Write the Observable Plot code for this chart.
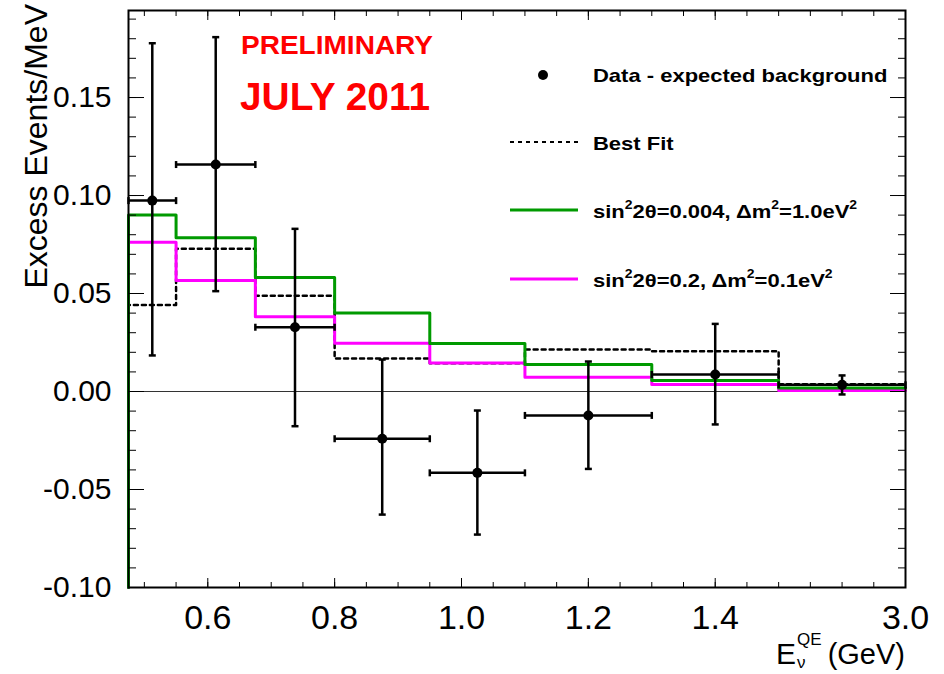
<!DOCTYPE html>
<html>
<head>
<meta charset="utf-8">
<script src="https://cdn.jsdelivr.net/npm/d3@7"></script>
<script src="https://cdn.jsdelivr.net/npm/@observablehq/plot@0.6"></script>
<style>
  html, body { margin: 0; padding: 0; background: #fff; }
  #chart svg { display: block; }
</style>
</head>
<body>
<div id="chart"></div>
<script>
// Reconstructed neutrino energy bins (GeV); the last bin runs 1.5 – 3.0 GeV
const binEdges = [0.475, 0.55, 0.675, 0.8, 0.95, 1.1, 1.3, 1.5, 3.0];

// Data minus expected background (events / MeV) with 1σ errors
const dataCenter = [0.5125, 0.6125, 0.7375, 0.875, 1.025, 1.2, 1.4, 2.25];
const dataExcess = [0.0974, 0.1158, 0.0328, -0.0241, -0.0415, -0.0122, 0.0087, 0.0034];
const dataLow    = [0.0184, 0.0512, -0.0177, -0.0628, -0.0730, -0.0395, -0.0168, -0.0015];
const dataHigh   = [0.1777, 0.1808, 0.0830, 0.0163, -0.0097, 0.0153, 0.0345, 0.0082];

// Oscillation predictions per bin
const bestFit   = [0.0442, 0.0728, 0.0488, 0.0168, 0.0144, 0.0214, 0.0206, 0.0037];
const predHighM = [0.0901, 0.0784, 0.0582, 0.0401, 0.0245, 0.0138, 0.0056, 0.0018]; // sin²2θ=0.004, Δm²=1.0 eV²
const predLowM  = [0.0762, 0.0566, 0.0381, 0.0246, 0.0146, 0.0073, 0.0036, 0.0005]; // sin²2θ=0.2, Δm²=0.1 eV²

// Axis ticks
const xTickValues  = [0.6, 0.8, 1.0, 1.2, 1.4, 3.0];
const xMinorTicks  = [0.5, 0.55, 0.6, 0.65, 0.7, 0.75, 0.8, 0.85, 0.9, 0.95, 1.0, 1.05, 1.1,
                      1.15, 1.2, 1.25, 1.3, 1.35, 1.4, 1.45, 1.5, 1.875, 2.25, 2.625];
const yTickValues  = [-0.10, -0.05, 0.00, 0.05, 0.10, 0.15];
const yMinorTicks  = d3.range(-9, 20).map(k => k / 100);
const yMin = -0.10, yMax = 0.1944;

const width = 944, height = 674;
const marginLeft = 128, marginRight = 39, marginTop = 10, marginBottom = 87;

// The axis is linear up to 1.5 GeV; the final 1.5–3.0 GeV bin is compressed
// into the space of 0.2 GeV on the linear part.
const xr0 = marginLeft, xr2 = width - marginRight;
const xr1 = xr0 + (xr2 - xr0) * (1.5 - 0.475) / (1.7 - 0.475);

// Histogram outline: starts at the bottom of the frame, then steps across bins
function steps(values) {
  const pts = [{x: binEdges[0], y: yMin}];
  values.forEach((v, i) => pts.push({x: binEdges[i], y: v}));
  pts.push({x: binEdges[binEdges.length - 1], y: values[values.length - 1]});
  return pts;
}

const points = dataCenter.map((x, i) => ({
  x, y: dataExcess[i], lo: dataLow[i], hi: dataHigh[i],
  x1: binEdges[i], x2: binEdges[i + 1]
}));

// Error-bar end caps as custom symbols
const capH = {draw(c) { c.moveTo(-3.5, 0); c.lineTo(3.5, 0); }};
const capV = {draw(c) { c.moveTo(0, -3.5); c.lineTo(0, 3.5); }};

const font = "'Liberation Sans', Arial, Helvetica, sans-serif";

const plot = Plot.plot({
  width, height, marginLeft, marginRight, marginTop, marginBottom,
  style: {fontFamily: font, background: "#fff", color: "#000", overflow: "visible"},
  x: {type: "linear", domain: [0.475, 1.5, 3.0], range: [xr0, xr1, xr2], axis: null},
  y: {domain: [yMin, yMax], axis: null},
  marks: [
    Plot.ruleY([0], {stroke: "#333", strokeWidth: 1}),

    Plot.line(steps(bestFit), {x: "x", y: "y", curve: "step-after", stroke: "#000",
      strokeWidth: 2.5, strokeDasharray: "4,4"}),
    Plot.line(steps(predLowM), {x: "x", y: "y", curve: "step-after", stroke: "#ff00ff", strokeWidth: 3}),
    Plot.line(steps(predHighM), {x: "x", y: "y", curve: "step-after", stroke: "#009a00", strokeWidth: 3}),

    // data points with horizontal (bin width) and vertical (error) bars
    Plot.ruleY(points, {y: "y", x1: "x1", x2: "x2", stroke: "#000", strokeWidth: 2.5}),
    Plot.ruleX(points, {x: "x", y1: "lo", y2: "hi", stroke: "#000", strokeWidth: 2.5}),
    Plot.dot(points, {x: "x", y: "lo", symbol: capH, fill: "none", stroke: "#000", strokeWidth: 2.5}),
    Plot.dot(points, {x: "x", y: "hi", symbol: capH, fill: "none", stroke: "#000", strokeWidth: 2.5}),
    Plot.dot(points, {x: "x1", y: "y", symbol: capV, fill: "none", stroke: "#000", strokeWidth: 2.5}),
    Plot.dot(points, {x: "x2", y: "y", symbol: capV, fill: "none", stroke: "#000", strokeWidth: 2.5}),
    Plot.dot(points, {x: "x", y: "y", r: 5, fill: "#000"}),

    Plot.frame({stroke: "#000", strokeWidth: 2}),

    // inward ticks on all four sides
    Plot.axisX(xMinorTicks, {anchor: "bottom", tickSize: -5, fill: "none", stroke: "#000", label: null}),
    Plot.axisX(xTickValues, {anchor: "bottom", tickSize: -9, fill: "none", stroke: "#000", label: null}),
    Plot.axisX(xMinorTicks, {anchor: "top", tickSize: -5, fill: "none", stroke: "#000", label: null}),
    Plot.axisX(xTickValues, {anchor: "top", tickSize: -9, fill: "none", stroke: "#000", label: null}),
    Plot.axisY(yMinorTicks, {anchor: "left", tickSize: -8, fill: "none", stroke: "#000", label: null}),
    Plot.axisY(yTickValues, {anchor: "left", tickSize: -16, fill: "none", stroke: "#000", label: null}),
    Plot.axisY(yMinorTicks, {anchor: "right", tickSize: -8, fill: "none", stroke: "#000", label: null}),
    Plot.axisY(yTickValues, {anchor: "right", tickSize: -16, fill: "none", stroke: "#000", label: null}),

    // tick labels
    Plot.axisX(xTickValues, {anchor: "bottom", tickSize: 0, tickPadding: 17, fontSize: 34,
      tickFormat: d => d.toFixed(1), fill: "#000", label: null, ariaLabel: "x-tick-labels"}),
    Plot.axisY(yTickValues, {anchor: "left", tickSize: 0, tickPadding: 17, fontSize: 30,
      tickFormat: d => d.toFixed(2), fill: "#000", label: null})
  ]
});

document.getElementById("chart").appendChild(plot);

const svg = d3.select(plot);

// narrow, tall digits on the energy axis
svg.selectAll('g[aria-label="x-tick-labels"] text').each(function() {
  const t = this.getAttribute("transform") || "";
  this.setAttribute("transform", t + " scale(0.76,1)");
});

// y-axis title
svg.append("text")
  .attr("transform", "translate(47,4) rotate(-90)")
  .attr("text-anchor", "end")
  .attr("font-family", font).attr("font-size", 32).attr("fill", "#000")
  .text("Excess Events/MeV");

// x-axis title: E with subscript ν and superscript QE
const xt = svg.append("g").attr("font-family", font).attr("fill", "#000").attr("text-anchor", "start");
xt.append("text").attr("x", 905).attr("y", 664).attr("text-anchor", "end")
  .attr("font-size", 29).text("(GeV)");
xt.append("text").attr("x", 776).attr("y", 664).attr("font-size", 30).text("E");
xt.append("text").attr("x", 797).attr("y", 668).attr("font-size", 17).text("ν");
xt.append("text").attr("x", 797).attr("y", 645).attr("font-size", 17).text("QE");

// red annotations
svg.append("text").attr("x", 241).attr("y", 53.5).attr("text-anchor", "start")
  .attr("font-family", font).attr("font-weight", "bold").attr("font-size", 26)
  .attr("fill", "#ff0000").attr("textLength", 192).attr("lengthAdjust", "spacingAndGlyphs")
  .text("PRELIMINARY");
svg.append("text").attr("x", 240).attr("y", 110).attr("text-anchor", "start")
  .attr("font-family", font).attr("font-weight", "bold").attr("font-size", 39)
  .attr("fill", "#ff0000").attr("textLength", 190).attr("lengthAdjust", "spacingAndGlyphs")
  .text("JULY 2011");

// legend
const lg = svg.append("g").attr("font-family", font).attr("font-weight", "bold")
  .attr("font-size", 22).attr("fill", "#000").attr("text-anchor", "start");

function legendText(y) {
  return lg.append("text").attr("transform", `translate(593,${y}) scale(1,0.86)`);
}

function legendFormula(y, parts) {
  const t = legendText(y);
  let raised = false;
  parts.forEach(([s, sup]) => {
    const ts = t.append("tspan").text(s);
    if (sup && !raised) ts.attr("font-size", 14).attr("dy", -10);
    else if (!sup && raised) ts.attr("dy", 10);
    raised = sup;
  });
}

lg.append("circle").attr("cx", 543).attr("cy", 75).attr("r", 5).attr("fill", "#000");
legendText(82).text("Data - expected background");

lg.append("line").attr("x1", 510).attr("x2", 578).attr("y1", 142).attr("y2", 142)
  .attr("stroke", "#000").attr("stroke-width", 2).attr("stroke-dasharray", "4,4");
legendText(150).text("Best Fit");

lg.append("line").attr("x1", 510).attr("x2", 578).attr("y1", 210).attr("y2", 210)
  .attr("stroke", "#009a00").attr("stroke-width", 3);
legendFormula(218, [["sin", false], ["2", true], ["2θ=0.004, Δm", false], ["2", true], ["=1.0eV", false], ["2", true]]);

lg.append("line").attr("x1", 510).attr("x2", 578).attr("y1", 279).attr("y2", 279)
  .attr("stroke", "#ff00ff").attr("stroke-width", 3);
legendFormula(287, [["sin", false], ["2", true], ["2θ=0.2, Δm", false], ["2", true], ["=0.1eV", false], ["2", true]]);
</script>
</body>
</html>
